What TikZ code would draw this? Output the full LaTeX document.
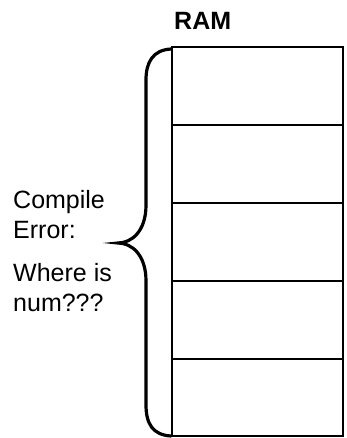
\documentclass[tikz,border=0pt]{standalone}
\usepackage{fontspec}
\setmainfont{Liberation Sans}
\begin{document}
\begin{tikzpicture}[x=1pt,y=-1pt,
  lbl/.style={anchor=base west,inner sep=0pt,font=\fontsize{25}{29}\selectfont},
  outer/.style={line width=2.5pt},
  inner/.style={line width=1.2pt},
  bracestyle/.style={line width=3.2pt,line cap=round}]
\useasboundingbox (0,0) rectangle (346,438);
% RAM cells
\coordinate (tl) at (172,47);
\coordinate (br) at (343,436);
\foreach \y/\n in {125/a,203/b,281/c,359/d}{
  \coordinate (l\n) at (172,\y);
  \coordinate (r\n) at (343,\y);
  \draw[inner] (l\n) -- (r\n);
}
\draw[line width=1.8pt] (172,436) -- (br);
\draw[outer] (172,436.5) -- (tl) -- (343,47) -- (343,436.5);
% title
\node[lbl,font=\fontsize{25}{29}\selectfont\bfseries] (ram) at (174,30) {RAM};
% brace
\draw[bracestyle] (171,49) .. controls (153,50) and (146,62) .. (146,80)
  -- (146,205) .. controls (146,232) and (131,243) .. (118,243)
  .. controls (131,243) and (146,254) .. (146,281)
  -- (146,405) .. controls (146,424) and (153,435) .. (171,436);
% text
\node[lbl] (t1) at (13,208) {Compile};
\node[lbl] (t2) at (13,238) {Error:};
\node[lbl] (t3) at (13,281) {Where is};
\node[lbl] (t4) at (13,311) {num???};
\end{tikzpicture}
\end{document}
